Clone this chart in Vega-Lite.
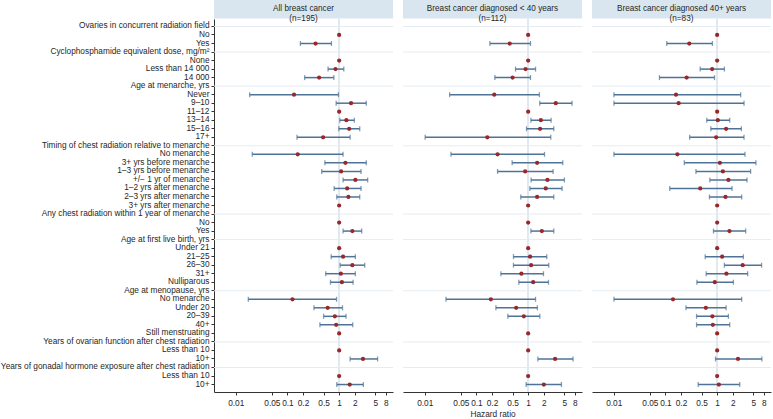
{
  "$schema": "https://vega.github.io/schema/vega-lite/v6.json",
  "padding": 0,
  "background": "white",
  "config": {
    "font": "Liberation Sans",
    "view": {"stroke": null},
    "axis": {"labelFont": "Liberation Sans", "labelFontSize": 8.3, "labelColor": "#262626", "tickColor": "#333333", "domainColor": "#333333", "tickSize": 3, "grid": false, "titleFont": "Liberation Sans", "titleFontWeight": "normal", "titleFontSize": 8.3, "titleColor": "#262626"}
  },
  "datasets": {
    "titles": [
      {"p": 1, "t": "All breast cancer\n(n=195)"},
      {"p": 2, "t": "Breast cancer diagnosed < 40 years\n(n=112)"},
      {"p": 3, "t": "Breast cancer diagnosed 40+ years\n(n=83)"}
    ],
    "heads": [
      {"k": "01|Ovaries in concurrent radiation field"},
      {"k": "04|Cyclophosphamide equivalent dose, mg/m²"},
      {"k": "08|Age at menarche, yrs"},
      {"k": "15|Timing of chest radiation relative to menarche"},
      {"k": "23|Any chest radiation within 1 year of menarche"},
      {"k": "26|Age at first live birth, yrs"},
      {"k": "32|Age at menopause, yrs"},
      {"k": "38|Years of ovarian function after chest radiation"},
      {"k": "41|Years of gonadal hormone exposure after chest radiation"}
    ],
    "est": [
      {"p": 1, "k": "02|No", "hr": 1},
      {"p": 1, "k": "03|Yes", "hr": 0.35, "lo": 0.178, "hi": 0.71},
      {"p": 1, "k": "05|None", "hr": 1},
      {"p": 1, "k": "06|Less than 14 000", "hr": 0.85, "lo": 0.61, "hi": 1.23},
      {"p": 1, "k": "07|14 000", "hr": 0.41, "lo": 0.215, "hi": 0.79},
      {"p": 1, "k": "09|Never", "hr": 0.134, "lo": 0.0186, "hi": 0.97},
      {"p": 1, "k": "10|9–10", "hr": 1.7, "lo": 0.876, "hi": 3.35},
      {"p": 1, "k": "11|11–12", "hr": 1},
      {"p": 1, "k": "12|13–14", "hr": 1.38, "lo": 1.03, "hi": 1.97},
      {"p": 1, "k": "13|15–16", "hr": 1.56, "lo": 0.985, "hi": 2.5},
      {"p": 1, "k": "14|17+", "hr": 0.49, "lo": 0.153, "hi": 1.63},
      {"p": 1, "k": "16|No menarche", "hr": 0.158, "lo": 0.0209, "hi": 1.19},
      {"p": 1, "k": "17|3+ yrs before menarche", "hr": 1.32, "lo": 0.53, "hi": 3.35},
      {"p": 1, "k": "18|1–3 yrs before menarche", "hr": 1.09, "lo": 0.46, "hi": 2.65},
      {"p": 1, "k": "19|+/− 1 yr of menarche", "hr": 2.06, "lo": 1.19, "hi": 3.56},
      {"p": 1, "k": "20|1–2 yrs after menarche", "hr": 1.43, "lo": 0.8, "hi": 2.65},
      {"p": 1, "k": "21|2–3 yrs after menarche", "hr": 1.51, "lo": 0.9, "hi": 2.5},
      {"p": 1, "k": "22|3+ yrs after menarche", "hr": 1},
      {"p": 1, "k": "24|No", "hr": 1},
      {"p": 1, "k": "25|Yes", "hr": 1.8, "lo": 1.19, "hi": 2.73},
      {"p": 1, "k": "27|Under 21", "hr": 1},
      {"p": 1, "k": "28|21–25", "hr": 1.19, "lo": 0.7, "hi": 2.06},
      {"p": 1, "k": "29|26–30", "hr": 1.8, "lo": 1.045, "hi": 3.12},
      {"p": 1, "k": "30|31+", "hr": 1.08, "lo": 0.55, "hi": 2.06},
      {"p": 1, "k": "31|Nulliparous", "hr": 1.13, "lo": 0.68, "hi": 1.86},
      {"p": 1, "k": "33|No menarche", "hr": 0.125, "lo": 0.0175, "hi": 0.89},
      {"p": 1, "k": "34|Under 20", "hr": 0.6, "lo": 0.326, "hi": 1.16},
      {"p": 1, "k": "35|20–39", "hr": 0.826, "lo": 0.5, "hi": 1.36},
      {"p": 1, "k": "36|40+", "hr": 0.876, "lo": 0.425, "hi": 1.83},
      {"p": 1, "k": "37|Still menstruating", "hr": 1},
      {"p": 1, "k": "39|Less than 10", "hr": 1},
      {"p": 1, "k": "40|10+", "hr": 2.89, "lo": 1.63, "hi": 5.54},
      {"p": 1, "k": "42|Less than 10", "hr": 1},
      {"p": 1, "k": "43|10+", "hr": 1.6, "lo": 0.9, "hi": 2.94},

      {"p": 2, "k": "02|No", "hr": 1},
      {"p": 2, "k": "03|Yes", "hr": 0.44, "lo": 0.182, "hi": 1.11},
      {"p": 2, "k": "05|None", "hr": 1},
      {"p": 2, "k": "06|Less than 14 000", "hr": 0.89, "lo": 0.57, "hi": 1.39},
      {"p": 2, "k": "07|14 000", "hr": 0.5, "lo": 0.227, "hi": 1.11},
      {"p": 2, "k": "09|Never", "hr": 0.221, "lo": 0.0303, "hi": 1.65},
      {"p": 2, "k": "10|9–10", "hr": 3.42, "lo": 1.68, "hi": 7.06},
      {"p": 2, "k": "11|11–12", "hr": 1},
      {"p": 2, "k": "12|13–14", "hr": 1.76, "lo": 1.13, "hi": 2.78},
      {"p": 2, "k": "13|15–16", "hr": 1.7, "lo": 0.93, "hi": 3.13},
      {"p": 2, "k": "14|17+", "hr": 0.162, "lo": 0.0102, "hi": 2.74},
      {"p": 2, "k": "16|No menarche", "hr": 0.256, "lo": 0.0322, "hi": 2.07},
      {"p": 2, "k": "17|3+ yrs before menarche", "hr": 1.49, "lo": 0.49, "hi": 4.67},
      {"p": 2, "k": "18|1–3 yrs before menarche", "hr": 0.875, "lo": 0.256, "hi": 3.04},
      {"p": 2, "k": "19|+/− 1 yr of menarche", "hr": 2.36, "lo": 1.14, "hi": 5.02},
      {"p": 2, "k": "20|1–2 yrs after menarche", "hr": 2.19, "lo": 1.08, "hi": 4.53},
      {"p": 2, "k": "21|2–3 yrs after menarche", "hr": 1.49, "lo": 0.72, "hi": 3.13},
      {"p": 2, "k": "22|3+ yrs after menarche", "hr": 1},
      {"p": 2, "k": "24|No", "hr": 1},
      {"p": 2, "k": "25|Yes", "hr": 1.84, "lo": 1.13, "hi": 3.13},
      {"p": 2, "k": "27|Under 21", "hr": 1},
      {"p": 2, "k": "28|21–25", "hr": 1.09, "lo": 0.52, "hi": 2.29},
      {"p": 2, "k": "29|26–30", "hr": 1.14, "lo": 0.52, "hi": 2.5},
      {"p": 2, "k": "30|31+", "hr": 0.74, "lo": 0.297, "hi": 1.98},
      {"p": 2, "k": "31|Nulliparous", "hr": 1.25, "lo": 0.66, "hi": 2.47},
      {"p": 2, "k": "33|No menarche", "hr": 0.19, "lo": 0.0258, "hi": 1.39},
      {"p": 2, "k": "34|Under 20", "hr": 0.587, "lo": 0.238, "hi": 1.51},
      {"p": 2, "k": "35|20–39", "hr": 0.825, "lo": 0.405, "hi": 1.68},
      {"p": 2, "k": "37|Still menstruating", "hr": 1},
      {"p": 2, "k": "39|Less than 10", "hr": 1},
      {"p": 2, "k": "40|10+", "hr": 3.32, "lo": 1.54, "hi": 7.38},
      {"p": 2, "k": "42|Less than 10", "hr": 1},
      {"p": 2, "k": "43|10+", "hr": 2.01, "lo": 0.915, "hi": 4.4},

      {"p": 3, "k": "02|No", "hr": 1},
      {"p": 3, "k": "03|Yes", "hr": 0.289, "lo": 0.106, "hi": 0.81},
      {"p": 3, "k": "05|None", "hr": 1},
      {"p": 3, "k": "06|Less than 14 000", "hr": 0.8, "lo": 0.47, "hi": 1.38},
      {"p": 3, "k": "07|14 000", "hr": 0.257, "lo": 0.0767, "hi": 0.89},
      {"p": 3, "k": "09|Never", "hr": 0.16, "lo": 0.0101, "hi": 2.85},
      {"p": 3, "k": "10|9–10", "hr": 0.18, "lo": 0.0101, "hi": 3.31},
      {"p": 3, "k": "11|11–12", "hr": 1},
      {"p": 3, "k": "12|13–14", "hr": 1.03, "lo": 0.63, "hi": 1.75},
      {"p": 3, "k": "13|15–16", "hr": 1.49, "lo": 0.755, "hi": 2.94},
      {"p": 3, "k": "14|17+", "hr": 0.957, "lo": 0.294, "hi": 3.31},
      {"p": 3, "k": "16|No menarche", "hr": 0.17, "lo": 0.0101, "hi": 3.45},
      {"p": 3, "k": "17|3+ yrs before menarche", "hr": 1.13, "lo": 0.232, "hi": 5.62},
      {"p": 3, "k": "18|1–3 yrs before menarche", "hr": 1.29, "lo": 0.389, "hi": 4.44},
      {"p": 3, "k": "19|+/− 1 yr of menarche", "hr": 1.65, "lo": 0.723, "hi": 3.78},
      {"p": 3, "k": "20|1–2 yrs after menarche", "hr": 0.471, "lo": 0.121, "hi": 1.94},
      {"p": 3, "k": "21|2–3 yrs after menarche", "hr": 1.45, "lo": 0.71, "hi": 2.98},
      {"p": 3, "k": "22|3+ yrs after menarche", "hr": 1},
      {"p": 3, "k": "24|No", "hr": 1},
      {"p": 3, "k": "25|Yes", "hr": 1.73, "lo": 0.85, "hi": 3.56},
      {"p": 3, "k": "27|Under 21", "hr": 1},
      {"p": 3, "k": "28|21–25", "hr": 1.25, "lo": 0.588, "hi": 3.21},
      {"p": 3, "k": "29|26–30", "hr": 3.12, "lo": 1.38, "hi": 7.23},
      {"p": 3, "k": "30|31+", "hr": 1.51, "lo": 0.614, "hi": 3.89},
      {"p": 3, "k": "31|Nulliparous", "hr": 0.9, "lo": 0.406, "hi": 2.06},
      {"p": 3, "k": "33|No menarche", "hr": 0.14, "lo": 0.0101, "hi": 2.98},
      {"p": 3, "k": "34|Under 20", "hr": 0.605, "lo": 0.25, "hi": 1.49},
      {"p": 3, "k": "35|20–39", "hr": 0.81, "lo": 0.4, "hi": 1.65},
      {"p": 3, "k": "36|40+", "hr": 0.825, "lo": 0.4, "hi": 1.75},
      {"p": 3, "k": "37|Still menstruating", "hr": 1},
      {"p": 3, "k": "39|Less than 10", "hr": 1},
      {"p": 3, "k": "40|10+", "hr": 2.53, "lo": 0.93, "hi": 7.33},
      {"p": 3, "k": "42|Less than 10", "hr": 1},
      {"p": 3, "k": "43|10+", "hr": 1.08, "lo": 0.43, "hi": 2.73}
    ]
  },
  "columns": 3,
  "bounds": "flush",
  "spacing": {"row": 0, "column": 10},
  "concat": [
    {
      "width": 179, "height": 18.6,
      "view": {"fill": "#d9e6ef", "stroke": null},
      "data": {"name": "titles"},
      "transform": [{"filter": "datum.p == 1"}],
      "mark": {"type": "text", "lineBreak": "\n", "fontSize": 8.2, "color": "#262626", "lineHeight": 10},
      "encoding": {"text": {"field": "t"}}
    },
    {
      "width": 179, "height": 18.6,
      "view": {"fill": "#d9e6ef", "stroke": null},
      "data": {"name": "titles"},
      "transform": [{"filter": "datum.p == 2"}],
      "mark": {"type": "text", "lineBreak": "\n", "fontSize": 8.2, "color": "#262626", "lineHeight": 10},
      "encoding": {"text": {"field": "t"}}
    },
    {
      "width": 179, "height": 18.6,
      "view": {"fill": "#d9e6ef", "stroke": null},
      "data": {"name": "titles"},
      "transform": [{"filter": "datum.p == 3"}],
      "mark": {"type": "text", "lineBreak": "\n", "fontSize": 8.2, "color": "#262626", "lineHeight": 10},
      "encoding": {"text": {"field": "t"}}
    },
    {
      "width": 179, "height": 373,
      "data": {"name": "est"},
      "transform": [{"filter": "datum.p == 1"}],
      "layer": [
        {"mark": {"type": "rule", "color": "#e0e8ef", "strokeWidth": 1}, "encoding": {"x": {"datum": 1, "type": "quantitative", "scale": {"type": "log", "domain": [0.0038, 11], "nice": false}, "axis": {"values": [0.01, 0.05, 0.1, 0.2, 0.5, 1, 2, 5, 8], "format": "~g", "title": null, "labelPadding": 3}}}},
        {
          "encoding": {"y": {"field": "k", "type": "ordinal", "scale": {"padding": 0.75, "domain": ["01|Ovaries in concurrent radiation field","02|No","03|Yes","04|Cyclophosphamide equivalent dose, mg/m²","05|None","06|Less than 14 000","07|14 000","08|Age at menarche, yrs","09|Never","10|9–10","11|11–12","12|13–14","13|15–16","14|17+","15|Timing of chest radiation relative to menarche","16|No menarche","17|3+ yrs before menarche","18|1–3 yrs before menarche","19|+/− 1 yr of menarche","20|1–2 yrs after menarche","21|2–3 yrs after menarche","22|3+ yrs after menarche","23|Any chest radiation within 1 year of menarche","24|No","25|Yes","26|Age at first live birth, yrs","27|Under 21","28|21–25","29|26–30","30|31+","31|Nulliparous","32|Age at menopause, yrs","33|No menarche","34|Under 20","35|20–39","36|40+","37|Still menstruating","38|Years of ovarian function after chest radiation","39|Less than 10","40|10+","41|Years of gonadal hormone exposure after chest radiation","42|Less than 10","43|10+"]}, "axis": {"title": null, "labelExpr": "split(datum.label, '|')[1]", "labelLimit": 400, "labelPadding": 2, "tickSize": 3}}},
          "layer": [
            {"data": {"name": "heads"}, "mark": {"type": "rule", "color": "#e4ecf2", "strokeWidth": 1}},
            {"mark": {"type": "rule", "color": "#4f7396", "strokeWidth": 1.5}, "encoding": {"x": {"field": "lo", "type": "quantitative"}, "x2": {"field": "hi"}}},
            {"mark": {"type": "tick", "color": "#4f7396", "thickness": 1.3, "size": 5}, "encoding": {"x": {"field": "lo", "type": "quantitative"}}},
            {"mark": {"type": "tick", "color": "#4f7396", "thickness": 1.3, "size": 5}, "encoding": {"x": {"field": "hi", "type": "quantitative"}}},
            {"mark": {"type": "point", "filled": true, "color": "#98282b", "opacity": 1, "size": 18}, "encoding": {"x": {"field": "hr", "type": "quantitative"}}}
          ]
        }
      ]
    },
    {
      "width": 179, "height": 373,
      "data": {"name": "est"},
      "transform": [{"filter": "datum.p == 2"}],
      "layer": [
        {"mark": {"type": "rule", "color": "#e0e8ef", "strokeWidth": 1}, "encoding": {"x": {"datum": 1, "type": "quantitative", "scale": {"type": "log", "domain": [0.0038, 11], "nice": false}, "axis": {"values": [0.01, 0.05, 0.1, 0.2, 0.5, 1, 2, 5, 8], "format": "~g", "title": "Hazard ratio", "labelPadding": 3, "titlePadding": 3}}}},
        {
          "encoding": {"y": {"field": "k", "type": "ordinal", "scale": {"padding": 0.75, "domain": ["01|Ovaries in concurrent radiation field","02|No","03|Yes","04|Cyclophosphamide equivalent dose, mg/m²","05|None","06|Less than 14 000","07|14 000","08|Age at menarche, yrs","09|Never","10|9–10","11|11–12","12|13–14","13|15–16","14|17+","15|Timing of chest radiation relative to menarche","16|No menarche","17|3+ yrs before menarche","18|1–3 yrs before menarche","19|+/− 1 yr of menarche","20|1–2 yrs after menarche","21|2–3 yrs after menarche","22|3+ yrs after menarche","23|Any chest radiation within 1 year of menarche","24|No","25|Yes","26|Age at first live birth, yrs","27|Under 21","28|21–25","29|26–30","30|31+","31|Nulliparous","32|Age at menopause, yrs","33|No menarche","34|Under 20","35|20–39","36|40+","37|Still menstruating","38|Years of ovarian function after chest radiation","39|Less than 10","40|10+","41|Years of gonadal hormone exposure after chest radiation","42|Less than 10","43|10+"]}, "axis": null}},
          "layer": [
            {"data": {"name": "heads"}, "mark": {"type": "rule", "color": "#e4ecf2", "strokeWidth": 1}},
            {"mark": {"type": "rule", "color": "#4f7396", "strokeWidth": 1.5}, "encoding": {"x": {"field": "lo", "type": "quantitative"}, "x2": {"field": "hi"}}},
            {"mark": {"type": "tick", "color": "#4f7396", "thickness": 1.3, "size": 5}, "encoding": {"x": {"field": "lo", "type": "quantitative"}}},
            {"mark": {"type": "tick", "color": "#4f7396", "thickness": 1.3, "size": 5}, "encoding": {"x": {"field": "hi", "type": "quantitative"}}},
            {"mark": {"type": "point", "filled": true, "color": "#98282b", "opacity": 1, "size": 18}, "encoding": {"x": {"field": "hr", "type": "quantitative"}}}
          ]
        }
      ]
    },
    {
      "width": 179, "height": 373,
      "data": {"name": "est"},
      "transform": [{"filter": "datum.p == 3"}],
      "layer": [
        {"mark": {"type": "rule", "color": "#e0e8ef", "strokeWidth": 1}, "encoding": {"x": {"datum": 1, "type": "quantitative", "scale": {"type": "log", "domain": [0.0038, 11], "nice": false}, "axis": {"values": [0.01, 0.05, 0.1, 0.2, 0.5, 1, 2, 5, 8], "format": "~g", "title": null, "labelPadding": 3}}}},
        {
          "encoding": {"y": {"field": "k", "type": "ordinal", "scale": {"padding": 0.75, "domain": ["01|Ovaries in concurrent radiation field","02|No","03|Yes","04|Cyclophosphamide equivalent dose, mg/m²","05|None","06|Less than 14 000","07|14 000","08|Age at menarche, yrs","09|Never","10|9–10","11|11–12","12|13–14","13|15–16","14|17+","15|Timing of chest radiation relative to menarche","16|No menarche","17|3+ yrs before menarche","18|1–3 yrs before menarche","19|+/− 1 yr of menarche","20|1–2 yrs after menarche","21|2–3 yrs after menarche","22|3+ yrs after menarche","23|Any chest radiation within 1 year of menarche","24|No","25|Yes","26|Age at first live birth, yrs","27|Under 21","28|21–25","29|26–30","30|31+","31|Nulliparous","32|Age at menopause, yrs","33|No menarche","34|Under 20","35|20–39","36|40+","37|Still menstruating","38|Years of ovarian function after chest radiation","39|Less than 10","40|10+","41|Years of gonadal hormone exposure after chest radiation","42|Less than 10","43|10+"]}, "axis": null}},
          "layer": [
            {"data": {"name": "heads"}, "mark": {"type": "rule", "color": "#e4ecf2", "strokeWidth": 1}},
            {"mark": {"type": "rule", "color": "#4f7396", "strokeWidth": 1.5}, "encoding": {"x": {"field": "lo", "type": "quantitative"}, "x2": {"field": "hi"}}},
            {"mark": {"type": "tick", "color": "#4f7396", "thickness": 1.3, "size": 5}, "encoding": {"x": {"field": "lo", "type": "quantitative"}}},
            {"mark": {"type": "tick", "color": "#4f7396", "thickness": 1.3, "size": 5}, "encoding": {"x": {"field": "hi", "type": "quantitative"}}},
            {"mark": {"type": "point", "filled": true, "color": "#98282b", "opacity": 1, "size": 18}, "encoding": {"x": {"field": "hr", "type": "quantitative"}}}
          ]
        }
      ]
    }
  ]
}
